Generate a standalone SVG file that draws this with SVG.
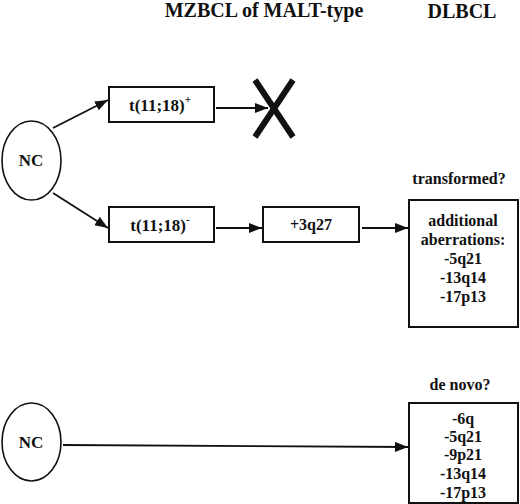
<svg xmlns="http://www.w3.org/2000/svg" width="520" height="504" viewBox="0 0 520 504">
<defs>
<style>
text{font-family:"Liberation Serif","Times New Roman",serif;font-weight:bold;fill:#111;text-anchor:middle}
.t20{font-size:20px}
.t16{font-size:16px}
.t17{font-size:17px}
.box{fill:#fff;stroke:#111;stroke-width:2}
.ell{fill:#fff;stroke:#111;stroke-width:1.6}
.ln{stroke:#111;stroke-width:1.8;fill:none}
</style>
<marker id="ah" markerUnits="userSpaceOnUse" markerWidth="14" markerHeight="12" refX="13" refY="5" orient="auto">
<path d="M0,0 L13,5 L0,10 z" fill="#111"/>
</marker>
</defs>
<rect width="520" height="504" fill="#fff"/>
<g id="headers">
<text class="t20" x="264" y="17">MZBCL of MALT-type</text>
<text class="t20" x="462" y="18">DLBCL</text>
</g>
<g id="connectors">
<line class="ln" x1="53" y1="128" x2="108" y2="100" marker-end="url(#ah)"/>
<line class="ln" x1="53" y1="193" x2="108" y2="228" marker-end="url(#ah)"/>
<line class="ln" x1="216" y1="108" x2="268" y2="108" marker-end="url(#ah)"/>
<line class="ln" x1="216" y1="228" x2="262" y2="228" marker-end="url(#ah)"/>
<line class="ln" x1="362" y1="228" x2="408" y2="228" marker-end="url(#ah)"/>
<line class="ln" x1="63" y1="445" x2="408" y2="447" marker-end="url(#ah)"/>
</g>
<g id="nc1">
<ellipse class="ell" cx="31.5" cy="160.5" rx="29.5" ry="39.5"/>
<text class="t17" x="31" y="166">NC</text>
</g>
<g id="t1118pos">
<rect class="box" x="109" y="87" width="105" height="35"/>
<text class="t17" x="160" y="111">t(11;18)<tspan font-size="11" dy="-8">+</tspan></text>
</g>
<g id="cross">
<line x1="255" y1="80" x2="293" y2="137" stroke="#111" stroke-width="6"/>
<line x1="293" y1="80" x2="255" y2="137" stroke="#111" stroke-width="6"/>
</g>
<g id="t1118neg">
<rect class="box" x="109" y="207" width="105" height="35"/>
<text class="t17" x="160" y="231">t(11;18)<tspan font-size="11" dy="-8">-</tspan></text>
</g>
<g id="q27">
<rect class="box" x="263" y="207" width="96" height="35"/>
<text class="t16" x="311" y="230">+3q27</text>
</g>
<g id="transformed">
<text class="t16" x="459" y="184">transformed?</text>
<rect class="box" x="409" y="200" width="109" height="127"/>
<text class="t16" x="463" y="226">additional</text>
<text class="t16" x="463" y="245">aberrations:</text>
<text class="t16" x="463" y="264">-5q21</text>
<text class="t16" x="463" y="283">-13q14</text>
<text class="t16" x="463" y="302">-17p13</text>
</g>
<g id="nc2">
<ellipse class="ell" cx="31.5" cy="442" rx="29.5" ry="39"/>
<text class="t17" x="31" y="448">NC</text>
</g>
<g id="denovo">
<text class="t16" x="460" y="390">de novo?</text>
<rect class="box" x="409" y="403" width="109" height="100"/>
<text class="t16" x="463" y="424">-6q</text>
<text class="t16" x="463" y="442">-5q21</text>
<text class="t16" x="463" y="460">-9p21</text>
<text class="t16" x="463" y="479">-13q14</text>
<text class="t16" x="463" y="498">-17p13</text>
</g>
</svg>
